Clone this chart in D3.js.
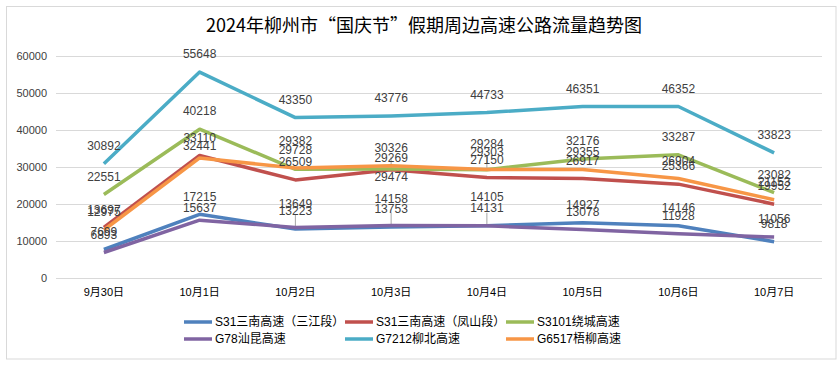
<!DOCTYPE html>
<html><head><meta charset="utf-8">
<script src="https://cdn.jsdelivr.net/npm/d3@7"></script>
<style>
html,body{margin:0;padding:0;background:#fff;}
svg{display:block;font-family:"Liberation Sans","Noto Sans CJK SC",sans-serif;}
</style></head>
<body>
<svg id="chart" width="840" height="366"></svg>
<script>
const title = "2024年柳州市“国庆节”假期周边高速公路流量趋势图";
const categories = ["9月30日","10月1日","10月2日","10月3日","10月4日","10月5日","10月6日","10月7日"];
const seriesNames = ["S31三南高速（三江段）","S31三南高速（凤山段）","S3101绕城高速","G78汕昆高速","G7212柳北高速","G6517梧柳高速"];
const seriesColors = ["#4F81BD","#C0504D","#9BBB59","#8064A2","#4BACC6","#F79646"];
const sanjiang = [7699, 17215, 13223, 13753, 14131, 14927, 14146, 9818];
const fengshan = [13697, 33110, 26509, 29269, 27150, 26917, 25366, 19952];
const raocheng = [22551, 40218, 29382, 29474, 29284, 32176, 33287, 23082];
const shankun  = [6893, 15637, 13649, 14158, 14105, 13078, 11928, 11056];
const liubei   = [30892, 55648, 43350, 43776, 44733, 46351, 46352, 33823];
const wuliu    = [12975, 32441, 29728, 30326, 29303, 29355, 26904, 21153];
const yTicks = [0, 10000, 20000, 30000, 40000, 50000, 60000];
const seriesValues = [sanjiang, fengshan, raocheng, shankun, liubei, wuliu];

// manual label nudges (series index, day index, extra px) to mimic hand-placed labels
const labelNudges = [[5,1,6],[3,1,6],[2,2,-10],[3,2,-6],[1,3,6],[2,3,26],[3,3,-9],[2,4,-8],[3,4,-11]];
const leaders = [[3,2],[3,3],[3,4],[1,3],[2,4]];

const svg = d3.select("#chart");
svg.append("rect").attr("x",6.5).attr("y",6.5).attr("width",829.5).attr("height",352.5)
  .attr("fill","#fff").attr("stroke","#D9D9D9").attr("stroke-width",1);

svg.append("text").attr("x",424).attr("y",32).attr("text-anchor","middle")
  .attr("font-family","'Noto Sans CJK SC',sans-serif").attr("font-size",18).attr("fill","#000")
  .text(title);

const x = d3.scaleBand().domain(categories).range([56,822]);
const y = d3.scaleLinear().domain([0,60000]).range([278,56]);

// gridlines
svg.append("g").selectAll("line").data(yTicks).join("line")
  .attr("x1",56).attr("x2",822).attr("y1",d=>Math.round(y(d))+0.5).attr("y2",d=>Math.round(y(d))+0.5)
  .attr("stroke","#D9D9D9").attr("stroke-width",1);

const yAxis = svg.append("g").attr("transform","translate(56,0)")
  .call(d3.axisLeft(y).tickValues(yTicks).tickSize(0).tickPadding(9).tickFormat(d3.format("d")));
yAxis.select(".domain").remove();
yAxis.selectAll("text").attr("font-size",11).attr("fill","#404040")
  .attr("font-family","'Liberation Sans',sans-serif");

const xAxis = svg.append("g").attr("transform","translate(0,278)")
  .call(d3.axisBottom(x).tickSize(0).tickPadding(10));
xAxis.select(".domain").remove();
xAxis.selectAll("text").attr("font-size",11).attr("fill","#000")
  .attr("font-family","'Liberation Sans','Noto Sans CJK SC',sans-serif");

const cx = d => x(d) + x.bandwidth()/2;
const line = d3.line().x((d,i)=>cx(categories[i])).y(d=>y(d));

// leader lines
svg.append("g").selectAll("line").data(leaders).join("line")
  .attr("x1",d=>cx(categories[d[1]])).attr("x2",d=>cx(categories[d[1]]))
  .attr("y1",d=>y(seriesValues[d[0]][d[1]])).attr("y2",d=>y(seriesValues[d[0]][d[1]])-13)
  .attr("stroke","#A6A6A6").attr("stroke-width",1);

svg.append("g").selectAll("path").data(seriesValues).join("path")
  .attr("d",d=>line(d)).attr("fill","none")
  .attr("stroke",(d,i)=>seriesColors[i]).attr("stroke-width",3.5)
  .attr("stroke-linejoin","round").attr("stroke-linecap","butt");

// data labels
const labels = [];
seriesValues.forEach((vals,si)=>vals.forEach((v,di)=>{
  const n = labelNudges.find(a=>a[0]===si&&a[1]===di);
  labels.push({v, si, di, dy: n ? n[2] : 0});
}));
svg.append("g").selectAll("text").data(labels).join("text")
  .attr("x",d=>cx(categories[d.di]))
  .attr("y",d=>y(d.v)-18+d.dy)
  .attr("dy","0.35em").attr("text-anchor","middle")
  .attr("font-size",12).attr("fill","#404040")
  .attr("font-family","'Liberation Sans',sans-serif")
  .text(d=>d.v);

// legend
const legendPos = [[184,322],[345,322],[506,322],[184,339],[345,339],[506,339]];
const lg = svg.append("g").selectAll("g").data(seriesNames).join("g")
  .attr("transform",(d,i)=>`translate(${legendPos[i][0]},${legendPos[i][1]})`);
lg.append("line").attr("x1",0).attr("x2",28).attr("y1",0).attr("y2",0)
  .attr("stroke",(d,i)=>seriesColors[i]).attr("stroke-width",3.5);
lg.append("text").attr("x",31).attr("y",0).attr("dy","0.35em")
  .attr("font-size",12).attr("fill","#000")
  .attr("font-family","'Liberation Sans','Noto Sans CJK SC',sans-serif")
  .text(d=>d);
</script>
</body></html>
